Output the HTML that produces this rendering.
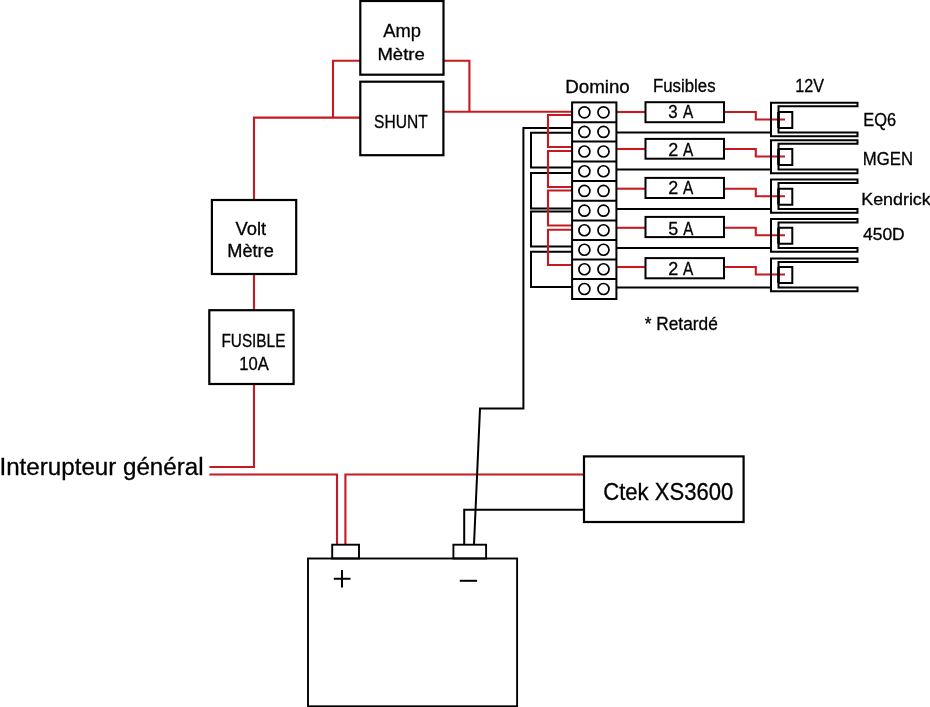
<!DOCTYPE html>
<html><head><meta charset="utf-8"><style>
html,body{margin:0;padding:0;background:#fff;}
body{width:930px;height:707px;overflow:hidden;}
svg{display:block;will-change:transform;}
text{font-family:"Liberation Sans", sans-serif;stroke:#000;stroke-width:0.3px;}
</style></head><body>
<svg width="930" height="707" viewBox="0 0 930 707">
<rect width="930" height="707" fill="#fff"/>
<path d="M360.3,60.75 H333 V117.8" fill="none" stroke="#c41a22" stroke-width="2.1" stroke-linejoin="miter" stroke-linecap="butt"/>
<path d="M360.3,117.6 H254 V200" fill="none" stroke="#c41a22" stroke-width="2.1" stroke-linejoin="miter" stroke-linecap="butt"/>
<path d="M443.5,60.75 H469.4 V111.8" fill="none" stroke="#c41a22" stroke-width="2.1" stroke-linejoin="miter" stroke-linecap="butt"/>
<path d="M443.4,111.8 H572" fill="none" stroke="#c41a22" stroke-width="2.1" stroke-linejoin="miter" stroke-linecap="butt"/>
<path d="M254,274 V310.2" fill="none" stroke="#c41a22" stroke-width="2.1" stroke-linejoin="miter" stroke-linecap="butt"/>
<path d="M254,384 V467 H209.4" fill="none" stroke="#c41a22" stroke-width="2.1" stroke-linejoin="miter" stroke-linecap="butt"/>
<path d="M209.4,474.5 H337 V544.7" fill="none" stroke="#c41a22" stroke-width="2.1" stroke-linejoin="miter" stroke-linecap="butt"/>
<path d="M345.4,544.7 V474.5 H584" fill="none" stroke="#c41a22" stroke-width="2.1" stroke-linejoin="miter" stroke-linecap="butt"/>
<path d="M616.4,112 H645.5" fill="none" stroke="#c41a22" stroke-width="2.1" stroke-linejoin="miter" stroke-linecap="butt"/>
<path d="M724,112 H755.8 V119.5 H785" fill="none" stroke="#c41a22" stroke-width="2.1" stroke-linejoin="miter" stroke-linecap="butt"/>
<path d="M616.4,149 H645.5" fill="none" stroke="#c41a22" stroke-width="2.1" stroke-linejoin="miter" stroke-linecap="butt"/>
<path d="M724,149 H755.8 V156.5 H785" fill="none" stroke="#c41a22" stroke-width="2.1" stroke-linejoin="miter" stroke-linecap="butt"/>
<path d="M616.4,188.7 H645.5" fill="none" stroke="#c41a22" stroke-width="2.1" stroke-linejoin="miter" stroke-linecap="butt"/>
<path d="M724,188.7 H755.8 V196.2 H785" fill="none" stroke="#c41a22" stroke-width="2.1" stroke-linejoin="miter" stroke-linecap="butt"/>
<path d="M616.4,227.8 H645.5" fill="none" stroke="#c41a22" stroke-width="2.1" stroke-linejoin="miter" stroke-linecap="butt"/>
<path d="M724,227.8 H755.8 V235.3 H785" fill="none" stroke="#c41a22" stroke-width="2.1" stroke-linejoin="miter" stroke-linecap="butt"/>
<path d="M616.4,267 H645.5" fill="none" stroke="#c41a22" stroke-width="2.1" stroke-linejoin="miter" stroke-linecap="butt"/>
<path d="M724,267 H755.8 V274.5 H785" fill="none" stroke="#c41a22" stroke-width="2.1" stroke-linejoin="miter" stroke-linecap="butt"/>
<path d="M616.4,132.5 H771" fill="none" stroke="#000" stroke-width="2.0" stroke-linejoin="miter" stroke-linecap="butt"/>
<path d="M616.4,169.5 H771" fill="none" stroke="#000" stroke-width="2.0" stroke-linejoin="miter" stroke-linecap="butt"/>
<path d="M616.4,209 H771" fill="none" stroke="#000" stroke-width="2.0" stroke-linejoin="miter" stroke-linecap="butt"/>
<path d="M616.4,248 H771" fill="none" stroke="#000" stroke-width="2.0" stroke-linejoin="miter" stroke-linecap="butt"/>
<path d="M616.4,287.5 H771" fill="none" stroke="#000" stroke-width="2.0" stroke-linejoin="miter" stroke-linecap="butt"/>
<path d="M572,128 H523.4 V408.6 H480 L474,544.7" fill="none" stroke="#000" stroke-width="2.0" stroke-linejoin="miter" stroke-linecap="butt"/>
<path d="M572,132.8 H531 V167.5 H572" fill="none" stroke="#000" stroke-width="2.0" stroke-linejoin="miter" stroke-linecap="butt"/>
<path d="M572,173 H531 V208.5 H572" fill="none" stroke="#000" stroke-width="2.0" stroke-linejoin="miter" stroke-linecap="butt"/>
<path d="M572,211.5 H531 V246.5 H572" fill="none" stroke="#000" stroke-width="2.0" stroke-linejoin="miter" stroke-linecap="butt"/>
<path d="M572,251.8 H531 V287 H572" fill="none" stroke="#000" stroke-width="2.0" stroke-linejoin="miter" stroke-linecap="butt"/>
<path d="M584,509.7 H464.2 V544.7" fill="none" stroke="#000" stroke-width="2.0" stroke-linejoin="miter" stroke-linecap="butt"/>
<path d="M572,115 H548 V147 H572" fill="none" stroke="#c41a22" stroke-width="2.1" stroke-linejoin="miter" stroke-linecap="butt"/>
<path d="M572,151 H548 V187 H572" fill="none" stroke="#c41a22" stroke-width="2.1" stroke-linejoin="miter" stroke-linecap="butt"/>
<path d="M572,190.5 H548 V225.5 H572" fill="none" stroke="#c41a22" stroke-width="2.1" stroke-linejoin="miter" stroke-linecap="butt"/>
<path d="M572,229.8 H548 V265 H572" fill="none" stroke="#c41a22" stroke-width="2.1" stroke-linejoin="miter" stroke-linecap="butt"/>
<rect x="360.3" y="1.0" width="83.20" height="73.70" fill="none" stroke="#000" stroke-width="2.2"/>
<rect x="360.3" y="81.7" width="83.10" height="73.50" fill="none" stroke="#000" stroke-width="2.2"/>
<rect x="211.9" y="200.0" width="84.30" height="74.00" fill="none" stroke="#000" stroke-width="2.2"/>
<rect x="209.3" y="310.2" width="84.30" height="73.80" fill="none" stroke="#000" stroke-width="2.2"/>
<rect x="584.0" y="456.4" width="159.60" height="65.60" fill="none" stroke="#000" stroke-width="2.2"/>
<rect x="308.0" y="558.5" width="209.10" height="147.80" fill="none" stroke="#000" stroke-width="1.9"/>
<rect x="332.2" y="544.7" width="26.80" height="13.80" fill="none" stroke="#000" stroke-width="1.9"/>
<rect x="453.4" y="544.7" width="32.70" height="13.80" fill="none" stroke="#000" stroke-width="1.9"/>
<path d="M333.8,578.7 H350.5 M342,570 V587.5" fill="none" stroke="#000" stroke-width="2.0" stroke-linejoin="miter" stroke-linecap="butt"/>
<path d="M459.8,580.8 H477.1" fill="none" stroke="#000" stroke-width="2.0" stroke-linejoin="miter" stroke-linecap="butt"/>
<rect x="572.1" y="102.4" width="44.3" height="196.6" fill="#fff" stroke="#000" stroke-width="2"/>
<path d="M572.1,122.3 H616.4" fill="none" stroke="#000" stroke-width="2.0" stroke-linejoin="miter" stroke-linecap="butt"/>
<path d="M572.1,141.5 H616.4" fill="none" stroke="#000" stroke-width="2.0" stroke-linejoin="miter" stroke-linecap="butt"/>
<path d="M572.1,161.5 H616.4" fill="none" stroke="#000" stroke-width="2.0" stroke-linejoin="miter" stroke-linecap="butt"/>
<path d="M572.1,181.0 H616.4" fill="none" stroke="#000" stroke-width="2.0" stroke-linejoin="miter" stroke-linecap="butt"/>
<path d="M572.1,200.8 H616.4" fill="none" stroke="#000" stroke-width="2.0" stroke-linejoin="miter" stroke-linecap="butt"/>
<path d="M572.1,220.5 H616.4" fill="none" stroke="#000" stroke-width="2.0" stroke-linejoin="miter" stroke-linecap="butt"/>
<path d="M572.1,240.0 H616.4" fill="none" stroke="#000" stroke-width="2.0" stroke-linejoin="miter" stroke-linecap="butt"/>
<path d="M572.1,259.5 H616.4" fill="none" stroke="#000" stroke-width="2.0" stroke-linejoin="miter" stroke-linecap="butt"/>
<path d="M572.1,279.0 H616.4" fill="none" stroke="#000" stroke-width="2.0" stroke-linejoin="miter" stroke-linecap="butt"/>
<circle cx="584.4" cy="112.35" r="5.5" fill="none" stroke="#000" stroke-width="1.7"/>
<circle cx="603.5" cy="112.35" r="5.5" fill="none" stroke="#000" stroke-width="1.7"/>
<circle cx="584.4" cy="131.90" r="5.5" fill="none" stroke="#000" stroke-width="1.7"/>
<circle cx="603.5" cy="131.90" r="5.5" fill="none" stroke="#000" stroke-width="1.7"/>
<circle cx="584.4" cy="151.50" r="5.5" fill="none" stroke="#000" stroke-width="1.7"/>
<circle cx="603.5" cy="151.50" r="5.5" fill="none" stroke="#000" stroke-width="1.7"/>
<circle cx="584.4" cy="171.25" r="5.5" fill="none" stroke="#000" stroke-width="1.7"/>
<circle cx="603.5" cy="171.25" r="5.5" fill="none" stroke="#000" stroke-width="1.7"/>
<circle cx="584.4" cy="190.90" r="5.5" fill="none" stroke="#000" stroke-width="1.7"/>
<circle cx="603.5" cy="190.90" r="5.5" fill="none" stroke="#000" stroke-width="1.7"/>
<circle cx="584.4" cy="210.65" r="5.5" fill="none" stroke="#000" stroke-width="1.7"/>
<circle cx="603.5" cy="210.65" r="5.5" fill="none" stroke="#000" stroke-width="1.7"/>
<circle cx="584.4" cy="230.25" r="5.5" fill="none" stroke="#000" stroke-width="1.7"/>
<circle cx="603.5" cy="230.25" r="5.5" fill="none" stroke="#000" stroke-width="1.7"/>
<circle cx="584.4" cy="249.75" r="5.5" fill="none" stroke="#000" stroke-width="1.7"/>
<circle cx="603.5" cy="249.75" r="5.5" fill="none" stroke="#000" stroke-width="1.7"/>
<circle cx="584.4" cy="269.25" r="5.5" fill="none" stroke="#000" stroke-width="1.7"/>
<circle cx="603.5" cy="269.25" r="5.5" fill="none" stroke="#000" stroke-width="1.7"/>
<circle cx="584.4" cy="289.00" r="5.5" fill="none" stroke="#000" stroke-width="1.7"/>
<circle cx="603.5" cy="289.00" r="5.5" fill="none" stroke="#000" stroke-width="1.7"/>
<rect x="645.5" y="102.2" width="78.50" height="20.00" fill="none" stroke="#000" stroke-width="2.0"/>
<rect x="645.5" y="138.9" width="78.50" height="19.80" fill="none" stroke="#000" stroke-width="2.0"/>
<rect x="645.5" y="177.9" width="78.50" height="20.10" fill="none" stroke="#000" stroke-width="2.0"/>
<rect x="645.5" y="216.9" width="78.50" height="20.20" fill="none" stroke="#000" stroke-width="2.0"/>
<rect x="645.5" y="258.1" width="78.50" height="20.20" fill="none" stroke="#000" stroke-width="2.0"/>
<path d="M857.5,102.8 H771 V136.3 H857.5 V132.5 H778.5 V106.3 H857.5 Z" fill="none" stroke="#000" stroke-width="2"/>
<path d="M778.5,112 H792.3 V128 H778.5" fill="none" stroke="#000" stroke-width="2"/>
<path d="M778.5,112 V128" fill="none" stroke="#000" stroke-width="2.6" stroke-linejoin="miter" stroke-linecap="butt"/>
<path d="M857.5,140.2 H771 V173.3 H857.5 V169.5 H778.5 V143.7 H857.5 Z" fill="none" stroke="#000" stroke-width="2"/>
<path d="M778.5,149 H792.3 V165 H778.5" fill="none" stroke="#000" stroke-width="2"/>
<path d="M778.5,149 V165" fill="none" stroke="#000" stroke-width="2.6" stroke-linejoin="miter" stroke-linecap="butt"/>
<path d="M857.5,179.5 H771 V212.8 H857.5 V209 H778.5 V183.0 H857.5 Z" fill="none" stroke="#000" stroke-width="2"/>
<path d="M778.5,188.7 H792.3 V204.7 H778.5" fill="none" stroke="#000" stroke-width="2"/>
<path d="M778.5,188.7 V204.7" fill="none" stroke="#000" stroke-width="2.6" stroke-linejoin="miter" stroke-linecap="butt"/>
<path d="M857.5,219.0 H771 V251.8 H857.5 V248 H778.5 V222.5 H857.5 Z" fill="none" stroke="#000" stroke-width="2"/>
<path d="M778.5,227.8 H792.3 V243.8 H778.5" fill="none" stroke="#000" stroke-width="2"/>
<path d="M778.5,227.8 V243.8" fill="none" stroke="#000" stroke-width="2.6" stroke-linejoin="miter" stroke-linecap="butt"/>
<path d="M857.5,258.4 H771 V291.3 H857.5 V287.5 H778.5 V261.9 H857.5 Z" fill="none" stroke="#000" stroke-width="2"/>
<path d="M778.5,267 H792.3 V283 H778.5" fill="none" stroke="#000" stroke-width="2"/>
<path d="M778.5,267 V283" fill="none" stroke="#000" stroke-width="2.6" stroke-linejoin="miter" stroke-linecap="butt"/>
<text transform="translate(383.26,37.40) scale(0.9632,1)" font-size="19.04" fill="#000">Amp</text>
<text transform="translate(377.38,59.50) scale(1.1201,1)" font-size="16.57" fill="#000">Mètre</text>
<text transform="translate(374.08,127.80) scale(0.8715,1)" font-size="17.88" fill="#000">SHUNT</text>
<text transform="translate(235.41,234.80) scale(0.9900,1)" font-size="18.60" fill="#000">Volt</text>
<text transform="translate(227.21,256.90) scale(0.9954,1)" font-size="18.31" fill="#000">Mètre</text>
<text transform="translate(221.44,346.50) scale(0.8719,1)" font-size="17.59" fill="#000">FUSIBLE</text>
<text transform="translate(239.24,369.80) scale(0.9125,1)" font-size="18.17" fill="#000">10A</text>
<text transform="translate(565.26,92.50) scale(1.0306,1)" font-size="18.17" fill="#000">Domino</text>
<text transform="translate(653.02,92.40) scale(0.9324,1)" font-size="18.02" fill="#000">Fusibles</text>
<text transform="translate(795.37,92.40) scale(0.8953,1)" font-size="18.02" fill="#000">12V</text>
<text transform="translate(668.26,117.80) scale(0.9143,1)" font-size="18.46" fill="#000">3</text>
<text transform="translate(683.07,117.80) scale(0.8334,1)" font-size="18.46" fill="#000">A</text>
<text transform="translate(668.30,155.90) scale(0.9373,1)" font-size="19.19" fill="#000">2</text>
<text transform="translate(683.07,155.90) scale(0.8019,1)" font-size="19.19" fill="#000">A</text>
<text transform="translate(668.30,193.90) scale(0.9666,1)" font-size="18.60" fill="#000">2</text>
<text transform="translate(683.07,193.90) scale(0.8269,1)" font-size="18.60" fill="#000">A</text>
<text transform="translate(668.18,234.90) scale(0.9870,1)" font-size="18.17" fill="#000">5</text>
<text transform="translate(683.27,234.90) scale(0.8302,1)" font-size="18.17" fill="#000">A</text>
<text transform="translate(668.30,274.90) scale(0.9742,1)" font-size="18.46" fill="#000">2</text>
<text transform="translate(683.07,274.90) scale(0.8334,1)" font-size="18.46" fill="#000">A</text>
<text transform="translate(863.25,125.90) scale(0.9340,1)" font-size="17.59" fill="#000">EQ6</text>
<text transform="translate(862.83,164.90) scale(0.8999,1)" font-size="18.60" fill="#000">MGEN</text>
<text transform="translate(861.23,204.50) scale(1.0605,1)" font-size="16.86" fill="#000">Kendrick</text>
<text transform="translate(863.00,239.50) scale(1.0358,1)" font-size="16.86" fill="#000">450D</text>
<text transform="translate(644.72,329.50) scale(0.9914,1)" font-size="17.44" fill="#000">* Retardé</text>
<text transform="translate(603.27,500.00) scale(0.9255,1)" font-size="23.84" fill="#000">Ctek XS3600</text>
<text transform="translate(-0.52,474.80) scale(0.9958,1)" font-size="24.27" fill="#000">Interupteur général</text>
</svg>
</body></html>
